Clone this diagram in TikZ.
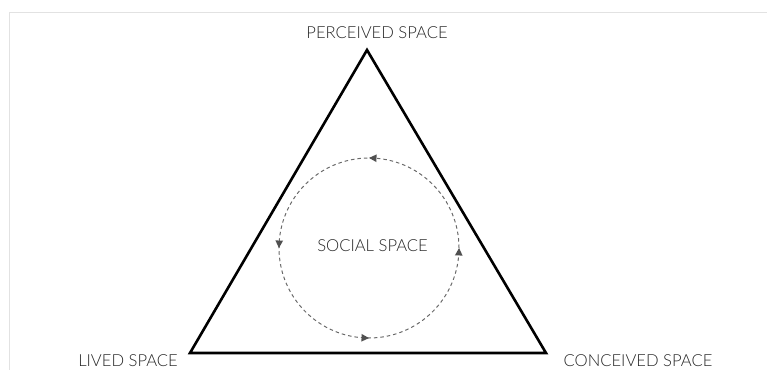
\documentclass[tikz,border=0pt]{standalone}
\usepackage{fontspec}
\setmainfont{Lato}[UprightFont={* Light}]
\usetikzlibrary{decorations.markings}
\definecolor{framegray}{HTML}{E2E2E2}
\definecolor{dashgray}{HTML}{6A6A6A}
\definecolor{tipgray}{HTML}{505050}
\tikzset{
  frameline/.style={draw=framegray,line width=1.5pt},
  triline/.style={draw=black,line width=2.6pt,line join=miter},
  lbl/.style={font=\fontsize{16.6}{19}\selectfont,text=black!85,inner sep=0pt},
  tipmark/.style={postaction={decorate,decoration={markings,
    mark=at position 0.243 with {\fill[tipgray] (4pt,0) -- (-3.5pt,3.8pt) -- (-3.5pt,-3.8pt) -- cycle;},
    mark=at position 0.493 with {\fill[tipgray] (4pt,0) -- (-3.5pt,3.8pt) -- (-3.5pt,-3.8pt) -- cycle;},
    mark=at position 0.743 with {\fill[tipgray] (4pt,0) -- (-3.5pt,3.8pt) -- (-3.5pt,-3.8pt) -- cycle;},
    mark=at position 0.993 with {\fill[tipgray] (4pt,0) -- (-3.5pt,3.8pt) -- (-3.5pt,-3.8pt) -- cycle;}}}},
  circline/.style={draw=dashgray,line width=1pt,dash pattern=on 3.5pt off 3pt}
}
\begin{document}
\begin{tikzpicture}[x=1pt,y=1pt]
\useasboundingbox (0,0) rectangle (767,375);
% frame
\coordinate (fbl) at (9.5,5);
\coordinate (ftl) at (9.5,362.5);
\coordinate (ftr) at (767,362.5);
\draw[frameline] (fbl) -- (ftl) -- (ftr);
% triangle
\coordinate (apex) at (367,325);
\coordinate (left) at (190,22);
\coordinate (right) at (546,22);
\draw[triline] (apex) -- (left) -- (right) -- cycle;
% circle
\coordinate (cc) at (369,127);
\path[circline,tipmark] (cc) ++(90,0) arc[start angle=0,end angle=360,radius=90];
% labels
\node[lbl] (perceived) at (377,342) {PERCEIVED SPACE};
\node[lbl] (lived) at (128,14) {LIVED SPACE};
\node[lbl] (conceived) at (638,14) {CONCEIVED SPACE};
\node[lbl] (social) at (372.5,129) {SOCIAL SPACE};
\end{tikzpicture}
\end{document}
